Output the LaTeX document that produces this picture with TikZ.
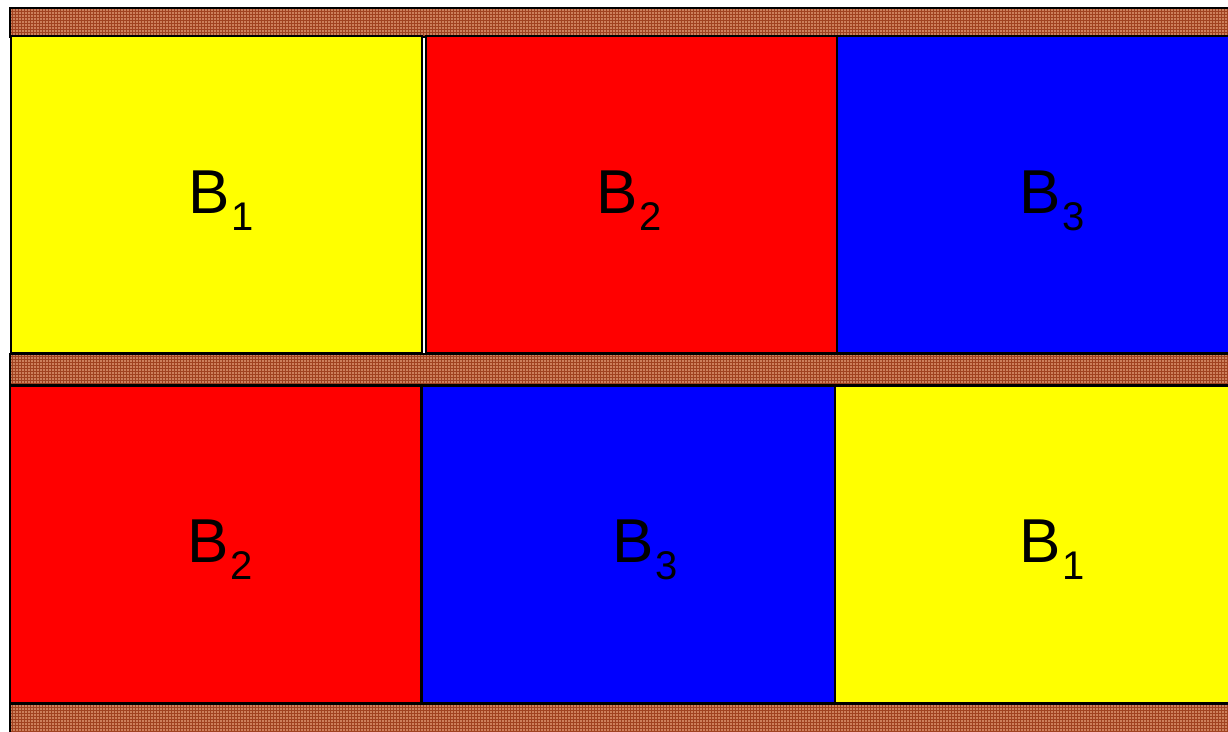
\documentclass[tikz,border=0pt]{standalone}
\usepackage{fontspec}
\setmainfont{Liberation Sans}
\usetikzlibrary{patterns}
\definecolor{strip}{RGB}{205,128,92}
\definecolor{stripd}{RGB}{160,66,32}
\definecolor{byel}{RGB}{255,255,0}
\definecolor{bred}{RGB}{255,0,0}
\definecolor{bblu}{RGB}{0,0,255}
\tikzset{
  box/.style={draw=black, line width=1.6pt, inner sep=0pt, minimum height=317pt, anchor=south west},
  stripfill/.style={fill=strip},
  stripgrid/.style={pattern=grid, pattern color=stripd},
  lab/.style={font=\fontsize{62}{64}\selectfont, inner sep=0pt, anchor=base west}
}
\newcommand{\blab}[1]{B\kern2pt\raisebox{-17pt}{\fontsize{40}{40}\selectfont #1}}
\begin{document}
\begin{tikzpicture}[x=1pt,y=1pt]
\useasboundingbox (0,0) rectangle (1228,731);
\begin{scope}
\clip (0,0) rectangle (1228,731);
% strips
\fill[stripfill] (10,694) rectangle (1240,723);
\fill[stripgrid] (10,694) rectangle (1240,723);
\draw[line width=1.4pt] (10,694) rectangle (1240,723);
\fill[stripfill] (10,346) rectangle (1240,377);
\fill[stripgrid] (10,346) rectangle (1240,377);
\draw[line width=1.4pt] (10,346) rectangle (1240,377);
\fill[stripfill] (10,-10) rectangle (1240,27);
\fill[stripgrid] (10,-10) rectangle (1240,27);
\draw[line width=1.4pt] (10,-10) rectangle (1240,27);
% top row
\node[box, fill=byel, minimum width=411pt] (t1) at (10,377) {};
\node[box, fill=bred, minimum width=411pt] (t2) at (425,377) {};
\node[box, fill=bblu, minimum width=420pt] (t3) at (836,377) {};
% bottom row
\node[box, fill=bred, minimum width=411pt] (b1) at (9,27) {};
\node[box, fill=bblu, minimum width=413pt] (b2) at (421,27) {};
\node[box, fill=byel, minimum width=420pt] (b3) at (834,27) {};
\end{scope}
% labels
\node[lab] (l1) at (188,517) {\blab{1}};
\node[lab] (l2) at (596,517) {\blab{2}};
\node[lab] (l3) at (1019,517) {\blab{3}};
\node[lab] (l4) at (187,168) {\blab{2}};
\node[lab] (l5) at (612,168) {\blab{3}};
\node[lab] (l6) at (1019,168) {\blab{1}};
\end{tikzpicture}
\end{document}
